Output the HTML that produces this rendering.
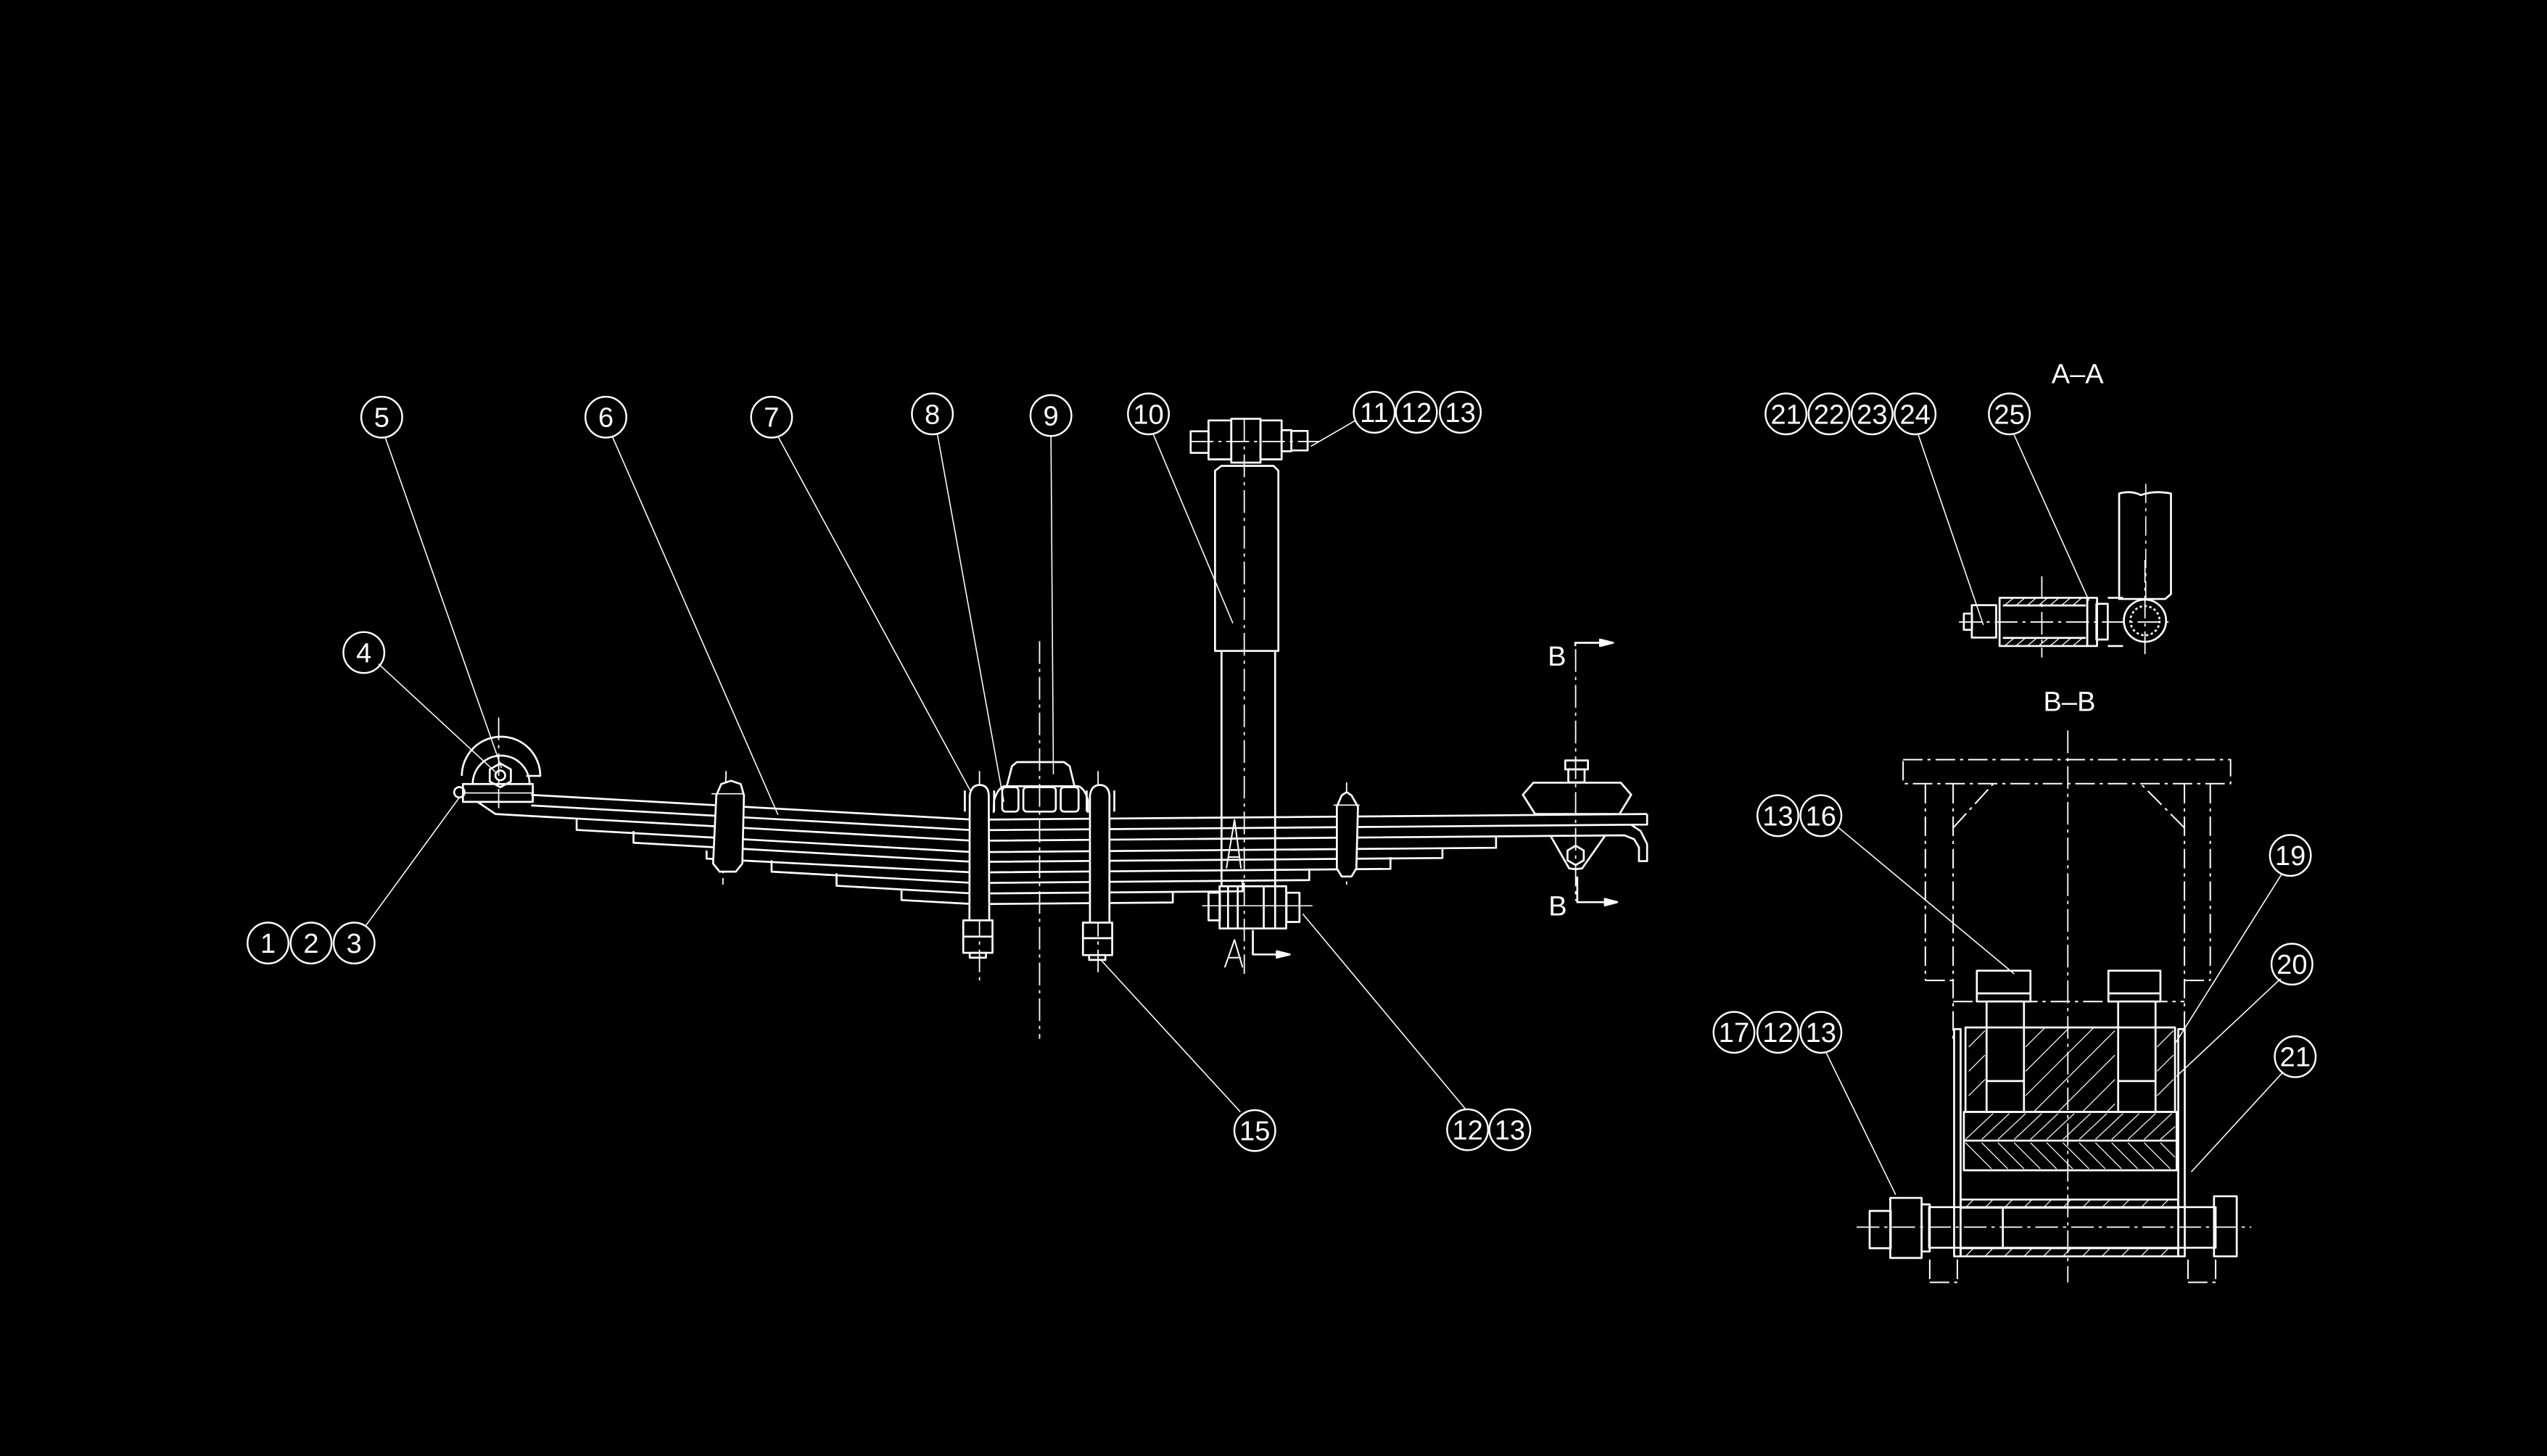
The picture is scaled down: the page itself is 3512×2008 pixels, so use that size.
<!DOCTYPE html>
<html><head><meta charset="utf-8"><style>
html,body{margin:0;padding:0;background:#000;}
svg{display:block;}
text{font-family:"Liberation Sans Narrow","Liberation Sans",sans-serif;fill:#fff;stroke:none;}
</style></head><body>
<svg width="3512" height="2008" viewBox="0 0 1568 897" preserveAspectRatio="none" xmlns="http://www.w3.org/2000/svg">
<rect width="1568" height="897" fill="#000"/>
<g fill="none" stroke="#fff" stroke-width="1.2" stroke-linejoin="round">

<!-- balloons -->
<g stroke-width="1.1">
<circle cx="235" cy="257" r="12.6"/><circle cx="373" cy="257" r="12.6"/><circle cx="475" cy="257" r="12.6"/>
<circle cx="574" cy="255" r="12.6"/><circle cx="647" cy="256" r="12.6"/><circle cx="707" cy="255" r="12.6"/>
<circle cx="846" cy="254" r="12.6"/><circle cx="872" cy="254" r="12.6"/><circle cx="899" cy="254" r="12.6"/>
<circle cx="224" cy="402" r="12.6"/>
<circle cx="165" cy="581" r="12.6"/><circle cx="191.5" cy="581" r="12.6"/><circle cx="218" cy="581" r="12.6"/>
<circle cx="772.5" cy="696.5" r="12.6"/>
<circle cx="903.5" cy="696" r="12.6"/><circle cx="929.5" cy="696" r="12.6"/>
<circle cx="1099.5" cy="255" r="12.6"/><circle cx="1126" cy="255" r="12.6"/><circle cx="1152.5" cy="255" r="12.6"/><circle cx="1179" cy="255" r="12.6"/>
<circle cx="1237" cy="255" r="12.6"/>
<circle cx="1094.5" cy="502.5" r="12.6"/><circle cx="1121" cy="502.5" r="12.6"/>
<circle cx="1410" cy="527" r="12.6"/><circle cx="1411" cy="594" r="12.6"/><circle cx="1413" cy="651" r="12.6"/>
<circle cx="1067.5" cy="636" r="12.6"/><circle cx="1094.5" cy="636" r="12.6"/><circle cx="1121" cy="636" r="12.6"/>
</g>

<!-- leaders -->
<g stroke-width="0.7">
<line x1="237" y1="269" x2="308.7" y2="473"/>
<line x1="233" y1="409" x2="305" y2="475.6"/>
<line x1="225.4" y1="570" x2="282.7" y2="491.4"/>
<line x1="377" y1="269" x2="479" y2="502"/>
<line x1="479" y1="269" x2="600" y2="492"/>
<line x1="577" y1="267" x2="618" y2="494"/>
<line x1="647" y1="268.5" x2="648.5" y2="477"/>
<line x1="710" y1="267.5" x2="759" y2="384"/>
<line x1="834.5" y1="259" x2="807" y2="275"/>
<line x1="763.6" y1="685" x2="677.8" y2="591.5"/>
<line x1="902" y1="683" x2="802" y2="563"/>
<line x1="1181" y1="268" x2="1221" y2="385"/>
<line x1="1240" y1="268" x2="1286" y2="370"/>
<line x1="1132" y1="510" x2="1240" y2="600"/>
<line x1="1405" y1="538" x2="1339" y2="643"/>
<line x1="1404" y1="603" x2="1340" y2="663"/>
<line x1="1405" y1="661" x2="1349" y2="722"/>
<line x1="1124" y1="648" x2="1167" y2="736"/>
</g>

<!-- centerlines -->
<g stroke-width="0.8" stroke-dasharray="14 3 2 3">
<line x1="640" y1="395" x2="640" y2="640"/>
<line x1="766" y1="258" x2="766" y2="600"/>
<line x1="603" y1="475" x2="603" y2="605"/>
<line x1="676" y1="475" x2="676" y2="600"/>
<line x1="447" y1="475" x2="445" y2="545"/>
<line x1="829" y1="482" x2="829" y2="545"/>
<line x1="970" y1="400" x2="970" y2="555"/>
<line x1="307" y1="442" x2="307" y2="498"/>
<line x1="1273" y1="450" x2="1273" y2="790"/>
<line x1="1143" y1="756" x2="1386" y2="756"/>
<line x1="1206" y1="383.2" x2="1338" y2="383.2"/>
<line x1="1320.5" y1="345" x2="1320.5" y2="405"/>
<line x1="1257" y1="355" x2="1257" y2="405"/>
<line x1="733" y1="272" x2="812" y2="272"/>
</g>

<!-- left eye / shackle -->
<path d="M284.3 478 A24 24 0 0 1 332.6 478 L324 478"/>
<path d="M291 483 A17.5 17.5 0 0 1 326 483"/>
<polygon points="308,470.3 314.5,474 314.5,481.4 308,485 301.5,481.4 301.5,474"/>
<circle cx="308" cy="477.7" r="3"/>
<rect x="285" y="483" width="43" height="11"/>
<line x1="285" y1="488.5" x2="328" y2="488.5" stroke-width="0.7"/>
<circle cx="282.8" cy="488.1" r="3.2"/>

<!-- leaves -->
<polyline points="327,489.7 600,505 1014,501.5"/>
<polyline points="327,496.2 600,511.5 1014,508 1014,501.5"/>
<polyline points="294,494 305,501.5 600,518 1000,514.6 1006,517 1009,522 1009,530.5 1014,530.5 1014,520 1010,512 1004,508"/>
<polyline points="355,504 355,511.3 600,525 921,522.3 921,515"/>
<polyline points="390,512 390,519.2 600,531 888,528.6 888,522"/>
<polyline points="435,524 435,529 600,537.5 856,535.3 856,528"/>
<polyline points="475,530 475,537 600,544 806,542.2 806,535"/>
<polyline points="515,538 515,545.7 600,550.5 765,549.1 765,542"/>
<polyline points="555,548 555,554.5 600,557 722,556 722,549"/>

<!-- spring clips -->
<g fill="#000">
<path d="M441 490 L444 483 L450 481 L456 483 L458 490 L457 532 L453 537 L443 537 L439 532 Z"/>
<path d="M823 497 L826 490 L829 488 L832 490 L836 497 L835 535 L832 540 L826 540 L823 535 Z"/>
</g>
<line x1="438" y1="489" x2="458" y2="489" stroke-width="0.7"/>
<line x1="821" y1="496" x2="837" y2="496" stroke-width="0.7"/>

<!-- pad 9 -->
<path d="M619.8 484.4 L623 472 L626 469.5 L655 469.5 L658.5 472 L661.5 484.4"/>
<path d="M611.7 500.7 L612 493 Q614 486 618 484.4 L664 484.4 Q668 486 669.7 493 L669.7 500.7"/>
<rect x="617" y="485" width="10" height="15" rx="2"/><rect x="630" y="485" width="20" height="15" rx="2"/><rect x="653" y="485" width="11" height="15" rx="2"/>

<!-- U-bolts -->
<g fill="#000">
<path d="M596.8 567 L597 490 Q598 483.6 603 483.6 Q608.5 483.6 608.7 490 L609 567"/>
<path d="M671 568 L671 490 Q672 483.6 677 483.6 Q682.5 483.6 683 490 L683 568"/>
</g>
<rect x="593" y="567" width="18" height="20"/><line x1="593" y1="577" x2="611" y2="577"/><rect x="597" y="587" width="10" height="3"/>
<rect x="666.7" y="568.4" width="18" height="20"/><line x1="666.7" y1="578" x2="684.7" y2="578"/><rect x="670.5" y="588.4" width="10" height="3"/>
<line x1="594" y1="487" x2="594" y2="500"/><line x1="612" y1="487" x2="612" y2="500"/>
<line x1="669" y1="487" x2="669" y2="500"/><line x1="686" y1="487" x2="686" y2="500"/>

<!-- shock absorber -->
<rect x="733" y="265.7" width="11" height="13.3"/>
<rect x="744" y="259" width="14" height="24"/>
<rect x="758" y="258" width="18" height="27"/>
<rect x="776" y="259" width="13" height="24"/>
<rect x="789" y="265" width="6" height="13"/>
<rect x="795" y="265.5" width="10" height="12"/>
<path d="M748 401 L748 290 L752 287 L784 287 L787 290 L787 401 Z"/>
<line x1="752" y1="401" x2="752" y2="546"/><line x1="785" y1="401" x2="785" y2="546"/>
<rect x="750.8" y="546" width="41" height="26"/>
<rect x="744" y="550" width="7" height="17"/><rect x="792" y="550" width="8" height="18"/>
<line x1="756" y1="546" x2="756" y2="572"/><line x1="762" y1="546" x2="762" y2="572"/>
<line x1="778" y1="546" x2="778" y2="572"/><line x1="785" y1="546" x2="785" y2="572"/>
<line x1="740" y1="558" x2="808" y2="558" stroke-width="0.7"/>
<path d="M755 535 L760 505 L764 535 M756.5 528 L763 528" stroke-width="0.9"/>
<path d="M754 596 L760 579 L765 596 M756 590 L764 590" stroke-width="0.9"/>
<polyline points="771.3,573 771.3,588 794,588"/>
<path d="M786 586 L794 588 L786 590 Z" fill="#fff"/>

<!-- right end bracket -->
<rect x="963.6" y="468.5" width="14" height="5.5"/>
<rect x="965.5" y="474" width="10" height="8"/>
<polygon points="944,482.2 997.8,482.2 1004.2,489.6 997,501.5 945,501.5 937.5,489.6"/>
<path d="M954.6 515 L966 535 L970 535.5 L974 535 L988 515"/>
<polygon points="970,521 975,524 975,530 970,533 965,530 965,524"/>
<polyline points="969.8,398 969.8,396 993,396"/>
<path d="M985 394 L993 396 L985 398 Z" fill="#fff"/>
<polyline points="971,540 971,555.8 995.6,555.8"/>
<path d="M988 553.8 L995.6 555.8 L988 557.8 Z" fill="#fff"/>

<!-- A-A view -->
<path d="M1304.6 369 L1304.6 304 Q1312 302 1318 305 Q1326 302 1336.5 304 L1336.5 366 L1333 369 Z"/>
<line x1="1321" y1="298" x2="1321" y2="369" stroke-width="0.7" stroke-dasharray="12 3 2 3"/>
<circle cx="1320.5" cy="382.4" r="13"/>
<circle cx="1320.5" cy="382.4" r="9" stroke-dasharray="1.5 1.5"/>
<rect x="1231" y="368.3" width="54" height="29.7"/>
<line x1="1233" y1="373" x2="1284" y2="373"/><line x1="1233" y1="393" x2="1284" y2="393"/>
<rect x="1285" y="368.3" width="6" height="29.7"/>
<rect x="1290.6" y="372" width="7" height="22"/>
<path d="M1297.6 368.3 L1307 368.3 M1297.6 398 L1307 398"/>
<rect x="1213.9" y="372.8" width="15" height="20"/>
<rect x="1209" y="378" width="5" height="10"/>
<g stroke-width="0.6">
<line x1="1234" y1="373" x2="1240" y2="368"/><line x1="1241" y1="373" x2="1247" y2="368"/><line x1="1248" y1="373" x2="1254" y2="368"/><line x1="1255" y1="373" x2="1261" y2="368"/><line x1="1262" y1="373" x2="1268" y2="368"/><line x1="1269" y1="373" x2="1275" y2="368"/><line x1="1276" y1="373" x2="1282" y2="368"/>
<line x1="1234" y1="398" x2="1240" y2="393"/><line x1="1241" y1="398" x2="1247" y2="393"/><line x1="1248" y1="398" x2="1254" y2="393"/><line x1="1255" y1="398" x2="1261" y2="393"/><line x1="1262" y1="398" x2="1268" y2="393"/><line x1="1269" y1="398" x2="1275" y2="393"/><line x1="1276" y1="398" x2="1282" y2="393"/>
</g>

<!-- B-B view -->
<g stroke-dasharray="12 3 2 3" stroke-width="0.9">
<rect x="1171.6" y="468" width="201.6" height="14.8"/>
<line x1="1185.3" y1="483" x2="1185.3" y2="604"/>
<line x1="1202.4" y1="483" x2="1202.4" y2="640"/>
<line x1="1344.8" y1="483" x2="1344.8" y2="640"/>
<line x1="1360.7" y1="483" x2="1360.7" y2="604"/>
<line x1="1185.3" y1="604" x2="1202.4" y2="604"/>
<line x1="1344.8" y1="604" x2="1360.7" y2="604"/>
<line x1="1202.4" y1="510" x2="1227" y2="483"/>
<line x1="1344.8" y1="510" x2="1318" y2="483"/>
<line x1="1202.4" y1="617" x2="1344.8" y2="617"/>
<line x1="1188" y1="776" x2="1188" y2="790"/>
<line x1="1205" y1="776" x2="1205" y2="790"/>
<line x1="1188" y1="790" x2="1205" y2="790"/>
<line x1="1347" y1="776" x2="1347" y2="790"/>
<line x1="1364" y1="776" x2="1364" y2="790"/>
<line x1="1347" y1="790" x2="1364" y2="790"/>
</g>
<rect x="1217" y="598" width="33" height="19"/><line x1="1217" y1="612" x2="1250" y2="612"/>
<rect x="1298" y="598" width="32" height="19"/><line x1="1298" y1="612" x2="1330" y2="612"/>
<rect x="1223" y="617" width="23" height="68"/><line x1="1223" y1="666" x2="1246" y2="666"/>
<rect x="1304" y="617" width="23" height="68"/><line x1="1304" y1="666" x2="1327" y2="666"/>
<rect x="1210" y="633" width="129" height="52"/>
<rect x="1209" y="685" width="131" height="36"/>
<line x1="1209" y1="702.7" x2="1340" y2="702.7"/>
<rect x="1203" y="634" width="4" height="140"/>
<rect x="1341" y="634" width="4" height="140"/>
<rect x="1207" y="739" width="134" height="5"/>
<rect x="1207" y="769" width="134" height="5"/>
<rect x="1187.6" y="743.7" width="176.4" height="25"/>
<line x1="1233" y1="743.7" x2="1233" y2="768.7"/>
<rect x="1363" y="737" width="14" height="37"/>
<rect x="1163.7" y="738" width="19.3" height="37"/>
<rect x="1183" y="742" width="5" height="29"/>
<rect x="1151" y="746" width="13" height="23"/>
<g stroke-width="0.55">
<path d="M1212 645 L1222 635 M1212 660 L1222 650 M1212 675 L1222 665 M1247 645 L1259 633 M1247 660 L1274 633 M1247 675 L1289 633 M1252 685 L1302 635 M1267 685 L1302 650 M1282 685 L1302 665 M1297 685 L1302 680 M1328 645 L1338 635 M1328 660 L1338 650 M1328 675 L1338 665"/>
<path d="M1210 702 L1227 686 M1220 702 L1237 686 M1230 702 L1247 686 M1240 702 L1257 686 M1250 702 L1267 686 M1260 702 L1277 686 M1270 702 L1287 686 M1280 702 L1297 686 M1290 702 L1307 686 M1300 702 L1317 686 M1310 702 L1327 686 M1320 702 L1337 686 M1330 702 L1339 694"/>
<path d="M1210 704 L1226 720 M1220 704 L1236 720 M1230 704 L1246 720 M1240 704 L1256 720 M1250 704 L1266 720 M1260 704 L1276 720 M1270 704 L1286 720 M1280 704 L1296 720 M1290 704 L1306 720 M1300 704 L1316 720 M1310 704 L1326 720 M1320 704 L1336 720 M1330 704 L1339 713"/>
<path d="M1210 744 L1215 739 M1222 744 L1227 739 M1234 744 L1239 739 M1246 744 L1251 739 M1258 744 L1263 739 M1270 744 L1275 739 M1282 744 L1287 739 M1294 744 L1299 739 M1306 744 L1311 739 M1318 744 L1323 739 M1330 744 L1335 739"/>
<path d="M1210 774 L1215 769 M1222 774 L1227 769 M1234 774 L1239 769 M1246 774 L1251 769 M1258 774 L1263 769 M1270 774 L1275 769 M1282 774 L1287 769 M1294 774 L1299 769 M1306 774 L1311 769 M1318 774 L1323 769 M1330 774 L1335 769"/>
</g>
</g>

<!-- texts -->
<g font-size="17" text-anchor="middle">
<text x="235" y="263">5</text><text x="373" y="263">6</text><text x="475" y="263">7</text>
<text x="574" y="261">8</text><text x="647" y="262">9</text><text x="707" y="261">10</text>
<text x="846" y="260">11</text><text x="872" y="260">12</text><text x="899" y="260">13</text>
<text x="224" y="408">4</text>
<text x="165" y="587">1</text><text x="191.5" y="587">2</text><text x="218" y="587">3</text>
<text x="772.5" y="702.5">15</text>
<text x="903.5" y="702">12</text><text x="929.5" y="702">13</text>
<text x="1099.5" y="261">21</text><text x="1126" y="261">22</text><text x="1152.5" y="261">23</text><text x="1179" y="261">24</text>
<text x="1237" y="261">25</text>
<text x="1094.5" y="508.5">13</text><text x="1121" y="508.5">16</text>
<text x="1410" y="533">19</text><text x="1411" y="600">20</text><text x="1413" y="657">21</text>
<text x="1067.5" y="642">17</text><text x="1094.5" y="642">12</text><text x="1121" y="642">13</text>
<text x="1279" y="236">A–A</text>
<text x="1274" y="438">B–B</text>
<text x="958.5" y="410">B</text>
<text x="959" y="564">B</text>
</g>
</svg>
</body></html>
